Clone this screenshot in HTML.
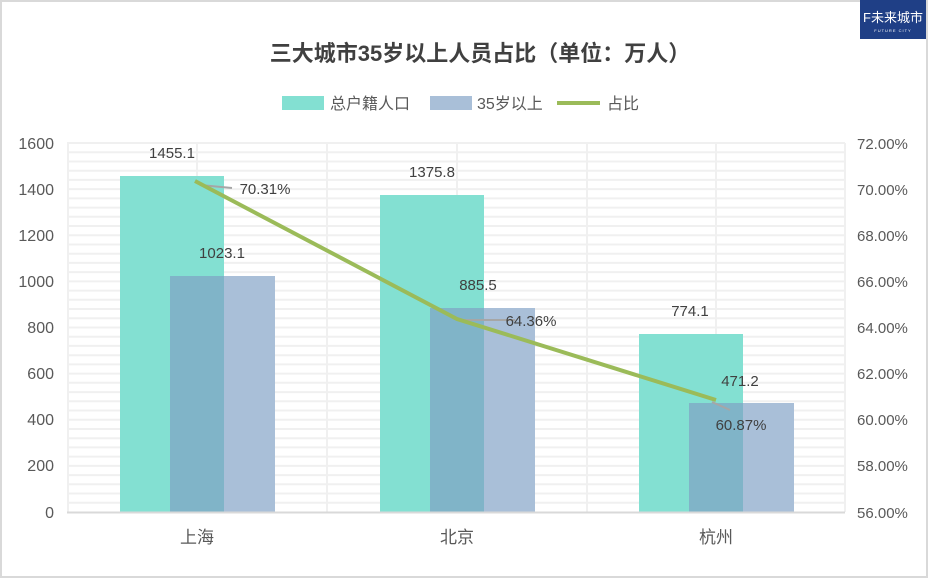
<!DOCTYPE html>
<html><head><meta charset="utf-8"><style>
body{margin:0;background:#fff}
svg{display:block;font-family:"Liberation Sans","Noto Sans CJK SC",sans-serif}
</style></head><body>
<svg width="928" height="578" viewBox="0 0 928 578">
<rect x="1" y="1" width="926" height="576" fill="#fff" stroke="#d9d9d9" stroke-width="2"/>
<rect x="860" y="0" width="66" height="39" fill="#1f3f86"/>
<text x="893" y="22" font-size="13" fill="#fff" text-anchor="middle">F未来城市</text>
<text x="893" y="32" font-size="4" fill="#fff" text-anchor="middle" letter-spacing="1">FUTURE CITY</text>
<text x="480" y="61" font-size="22" font-weight="bold" fill="#404040" text-anchor="middle">三大城市35岁以上人员占比（单位：万人）</text>
<rect x="282" y="96" width="42" height="14" fill="#83e0d2"/>
<text x="330" y="109" font-size="16" fill="#595959">总户籍人口</text>
<rect x="430" y="96" width="42" height="14" fill="#a9bfd8"/>
<text x="477" y="109" font-size="16" fill="#595959">35岁以上</text>
<line x1="557" y1="103" x2="600" y2="103" stroke="#9bbb59" stroke-width="4"/>
<text x="607" y="109" font-size="16" fill="#595959">占比</text>
<g stroke="#f0f0f0" stroke-width="2">
<line x1="67" y1="143" x2="845" y2="143"/><line x1="67" y1="152.2" x2="845" y2="152.2"/><line x1="67" y1="161.5" x2="845" y2="161.5"/><line x1="67" y1="170.7" x2="845" y2="170.7"/><line x1="67" y1="179.9" x2="845" y2="179.9"/><line x1="67" y1="189.1" x2="845" y2="189.1"/><line x1="67" y1="198.4" x2="845" y2="198.4"/><line x1="67" y1="207.6" x2="845" y2="207.6"/><line x1="67" y1="216.8" x2="845" y2="216.8"/><line x1="67" y1="226" x2="845" y2="226"/><line x1="67" y1="235.3" x2="845" y2="235.3"/><line x1="67" y1="244.5" x2="845" y2="244.5"/><line x1="67" y1="253.7" x2="845" y2="253.7"/><line x1="67" y1="262.9" x2="845" y2="262.9"/><line x1="67" y1="272.1" x2="845" y2="272.1"/><line x1="67" y1="281.4" x2="845" y2="281.4"/><line x1="67" y1="290.6" x2="845" y2="290.6"/><line x1="67" y1="299.8" x2="845" y2="299.8"/><line x1="67" y1="309" x2="845" y2="309"/><line x1="67" y1="318.3" x2="845" y2="318.3"/><line x1="67" y1="327.5" x2="845" y2="327.5"/><line x1="67" y1="336.7" x2="845" y2="336.7"/><line x1="67" y1="345.9" x2="845" y2="345.9"/><line x1="67" y1="355.2" x2="845" y2="355.2"/><line x1="67" y1="364.4" x2="845" y2="364.4"/><line x1="67" y1="373.6" x2="845" y2="373.6"/><line x1="67" y1="382.8" x2="845" y2="382.8"/><line x1="67" y1="392.1" x2="845" y2="392.1"/><line x1="67" y1="401.3" x2="845" y2="401.3"/><line x1="67" y1="410.5" x2="845" y2="410.5"/><line x1="67" y1="419.7" x2="845" y2="419.7"/><line x1="67" y1="429" x2="845" y2="429"/><line x1="67" y1="438.2" x2="845" y2="438.2"/><line x1="67" y1="447.4" x2="845" y2="447.4"/><line x1="67" y1="456.6" x2="845" y2="456.6"/><line x1="67" y1="465.9" x2="845" y2="465.9"/><line x1="67" y1="475.1" x2="845" y2="475.1"/><line x1="67" y1="484.3" x2="845" y2="484.3"/><line x1="67" y1="493.5" x2="845" y2="493.5"/><line x1="67" y1="502.8" x2="845" y2="502.8"/>
<line x1="68" y1="143" x2="68" y2="512"/><line x1="197" y1="143" x2="197" y2="512"/><line x1="327" y1="143" x2="327" y2="512"/><line x1="457" y1="143" x2="457" y2="512"/><line x1="587" y1="143" x2="587" y2="512"/><line x1="716" y1="143" x2="716" y2="512"/><line x1="845" y1="143" x2="845" y2="512"/>
</g>
<g>
<rect x="120" y="176" width="50" height="336" fill="#83e0d2"/><rect x="170" y="276" width="54" height="236" fill="#80b4c8"/><rect x="170" y="176" width="54" height="100" fill="#83e0d2"/><rect x="224" y="276" width="51" height="236" fill="#a9bfd8"/>
<rect x="380" y="195" width="50" height="317" fill="#83e0d2"/><rect x="430" y="308" width="54" height="204" fill="#80b4c8"/><rect x="430" y="195" width="54" height="113" fill="#83e0d2"/><rect x="484" y="308" width="51" height="204" fill="#a9bfd8"/>
<rect x="639" y="334" width="50" height="178" fill="#83e0d2"/><rect x="689" y="403" width="54" height="109" fill="#80b4c8"/><rect x="689" y="334" width="54" height="69" fill="#83e0d2"/><rect x="743" y="403" width="51" height="109" fill="#a9bfd8"/>
</g>
<line x1="67" y1="512.5" x2="845" y2="512.5" stroke="#d9d9d9" stroke-width="2"/>
<g stroke="#a6a6a6" stroke-width="2"><line x1="200" y1="185" x2="232" y2="188"/><line x1="460" y1="320" x2="515" y2="320"/><line x1="712" y1="402" x2="730" y2="410"/></g>
<polyline points="195,181 457,319 716,400" fill="none" stroke="#9bbb59" stroke-width="4"/>
<g font-size="15" fill="#404040" text-anchor="middle">
<text x="172" y="158">1455.1</text><text x="222" y="258">1023.1</text><text x="265" y="194">70.31%</text>
<text x="432" y="177">1375.8</text><text x="478" y="290">885.5</text><text x="531" y="326">64.36%</text>
<text x="690" y="316">774.1</text><text x="740" y="386">471.2</text><text x="741" y="430">60.87%</text>
</g>
<g font-size="16" fill="#595959" text-anchor="end">
<text x="54" y="149">1600</text><text x="54" y="195">1400</text><text x="54" y="241">1200</text><text x="54" y="287">1000</text><text x="54" y="333">800</text><text x="54" y="379">600</text><text x="54" y="425">400</text><text x="54" y="471">200</text><text x="54" y="518">0</text>
</g>
<g font-size="15" fill="#595959">
<text x="857" y="149">72.00%</text><text x="857" y="195">70.00%</text><text x="857" y="241">68.00%</text><text x="857" y="287">66.00%</text><text x="857" y="333">64.00%</text><text x="857" y="379">62.00%</text><text x="857" y="425">60.00%</text><text x="857" y="471">58.00%</text><text x="857" y="518">56.00%</text>
</g>
<g font-size="17" fill="#595959" text-anchor="middle">
<text x="197" y="543">上海</text><text x="457" y="543">北京</text><text x="716" y="543">杭州</text>
</g>
</svg>
</body></html>
